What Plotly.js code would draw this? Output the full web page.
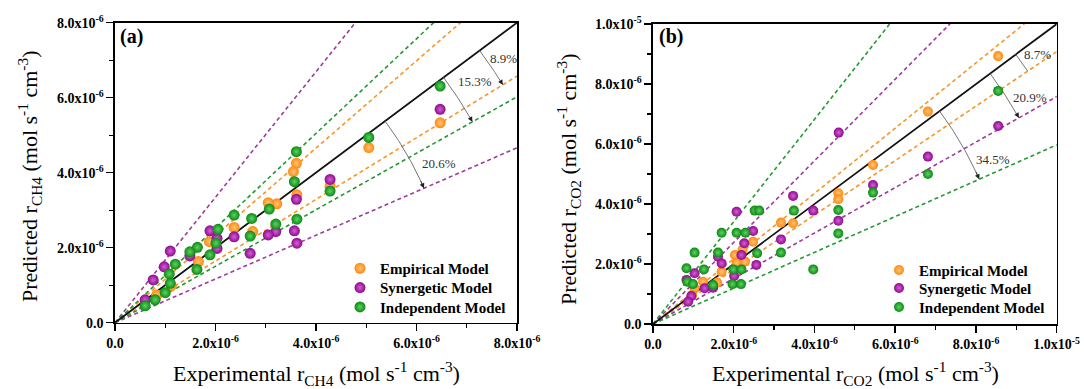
<!DOCTYPE html>
<html>
<head>
<meta charset="utf-8">
<script src="https://cdn.plot.ly/plotly-3.0.1.min.js"></script>
<style>html,body{margin:0;padding:0;background:#fff;}#chart{width:1084px;height:389px;}</style>
</head>
<body>
<div id="chart"></div>
<script>
// ---- Data (values in units of 1e-6 mol s^-1 cm^-3) ----
const UNIT = 1e-6;
const seriesNames = ['Empirical Model', 'Synergetic Model', 'Independent Model'];

// Panel (a): CH4
const a_emp_x = [3.61, 3.55, 3.62, 3.22, 3.05, 2.74, 2.37, 1.88, 1.66, 1.12, 0.83, 5.05, 6.47, 4.28];
const a_emp_y = [4.25, 4.03, 3.41, 3.17, 3.20, 2.43, 2.54, 2.16, 1.63, 0.98, 0.74, 4.67, 5.33, 3.64];
const a_syn_x = [4.28, 3.61, 3.57, 3.62, 3.20, 3.05, 2.69, 2.37, 2.03, 1.89, 2.03, 1.49, 1.10, 0.98, 0.76, 0.60, 6.47];
const a_syn_y = [3.82, 3.29, 2.45, 2.12, 2.43, 2.34, 1.85, 2.29, 2.25, 2.45, 1.98, 1.78, 1.91, 1.49, 1.14, 0.61, 5.69];
const a_ind_x = [3.61, 3.57, 4.28, 3.62, 3.07, 3.20, 2.72, 2.69, 2.37, 2.05, 2.01, 1.89, 1.64, 1.49, 1.63, 1.20, 1.08, 1.10, 1.00, 0.80, 0.60, 6.47, 5.05];
const a_ind_y = [4.56, 3.76, 3.51, 2.76, 3.03, 2.63, 2.78, 2.31, 2.87, 2.49, 2.12, 1.81, 2.01, 1.89, 1.42, 1.56, 1.30, 1.05, 0.80, 0.61, 0.45, 6.31, 4.94];

// Panel (b): CO2
const b_emp_x = [4.59, 4.59, 3.47, 3.17, 2.48, 2.22, 2.03, 2.28, 2.07, 1.70, 1.24, 1.59, 1.03, 0.97, 8.55, 6.81, 5.45];
const b_emp_y = [4.36, 4.16, 3.36, 3.38, 2.74, 2.47, 2.30, 2.08, 2.04, 1.74, 1.41, 1.38, 1.19, 0.97, 8.93, 7.08, 5.30];
const b_syn_x = [3.47, 3.97, 4.59, 2.07, 2.48, 2.26, 3.17, 2.56, 2.19, 1.61, 1.70, 2.01, 1.03, 0.83, 1.28, 1.49, 0.95, 0.87, 8.55, 6.81, 5.45, 4.60];
const b_syn_y = [4.27, 3.78, 3.44, 3.74, 3.10, 2.69, 2.82, 1.97, 2.30, 2.24, 2.02, 1.60, 1.69, 1.47, 1.19, 1.21, 0.93, 0.74, 6.60, 5.58, 4.63, 6.38];
const b_ind_x = [2.52, 2.63, 3.49, 4.59, 4.59, 3.17, 3.97, 1.70, 2.07, 2.29, 2.58, 1.03, 1.61, 0.83, 1.26, 1.99, 2.19, 0.85, 0.99, 1.49, 1.97, 2.18, 8.55, 6.81, 5.45];
const b_ind_y = [3.78, 3.78, 3.78, 3.80, 3.02, 2.38, 1.82, 3.04, 3.04, 3.04, 2.36, 2.38, 2.38, 1.86, 1.82, 1.82, 1.82, 1.41, 1.33, 1.30, 1.33, 1.33, 7.77, 5.00, 4.38];

// Error-band line slopes (upper / lower)
const a_slopes = {emp: [1.164, 0.822], syn: [1.673, 0.583], ind: [1.262, 0.753]};
const b_slopes = {emp: [1.088, 0.908], syn: [1.36, 0.758], ind: [1.706, 0.597]};
// Arc annotations: label, target lower line, radius (px)
const a_arcs = [['8.9%', 'emp', 455], ['15.3%', 'ind', 410], ['20.6%', 'syn', 337]];
const b_arcs = [['8.7%', 'emp', 452], ['20.9%', 'syn', 420], ['34.5%', 'ind', 357]];

const a_ticks = [0, 2, 4, 6, 8];
const a_tickText = ['0.0', '2.0x10<sup>-6</sup>', '4.0x10<sup>-6</sup>', '6.0x10<sup>-6</sup>', '8.0x10<sup>-6</sup>'];
const b_ticks = [0, 2, 4, 6, 8, 10];
const b_tickText = ['0.0', '2.0x10<sup>-6</sup>', '4.0x10<sup>-6</sup>', '6.0x10<sup>-6</sup>', '8.0x10<sup>-6</sup>', '1.0x10<sup>-5</sup>'];

// ---- Styling ----
const W = 1084, H = 389;
const FONT = '"Liberation Serif", serif';
const markerColors = {emp: '#FF8A0D', syn: '#8E0A8E', ind: '#0A8A12'};
const markerCenters = {emp: '#FFC47A', syn: '#D45FD4', ind: '#5FD165'};
const lineColors = {emp: '#F5962A', syn: '#9C3C9C', ind: '#229A30'};
const keys = ['emp', 'syn', 'ind'];

const pct = (px, py) => ({x: px / W, y: 1 - py / H});

const panels = [
  {xa: 'x', ya: 'y', xd: [115 / W, 517 / W], yd: [1 - 322.7 / H, 1 - 22.7 / H], max: 8,
   data: {emp: [a_emp_x, a_emp_y], syn: [a_syn_x, a_syn_y], ind: [a_ind_x, a_ind_y]},
   slopes: a_slopes, arcs: a_arcs, labelPos: [[503, 58], [474.5, 82], [439, 163.5]],
   ticks: a_ticks, tickText: a_tickText, legends: ['legend', 'legend2', 'legend3'],
   legX: 340, legRows: [268, 287.3, 306.7], msize: 11},
  {xa: 'x2', ya: 'y2', xd: [653 / W, 1056.7 / W], yd: [1 - 324 / H, 1 - 24 / H], max: 10,
   data: {emp: [b_emp_x, b_emp_y], syn: [b_syn_x, b_syn_y], ind: [b_ind_x, b_ind_y]},
   slopes: b_slopes, arcs: b_arcs, labelPos: [[1037, 54], [1029.5, 97], [993, 159.5]],
   ticks: b_ticks, tickText: b_tickText, legends: ['legend4', 'legend5', 'legend6'],
   legX: 879, legRows: [269.7, 287.7, 306.7], msize: 10}
];

const traces = [];
const annotations = [];
panels.forEach((p, pi) => {
  const xmax = p.max * UNIT;
  keys.forEach(k => {
    p.slopes[k].forEach(s => {
      traces.push({x: [0, xmax * 1.5], y: [0, xmax * 1.5 * s], xaxis: p.xa, yaxis: p.ya, mode: 'lines',
        line: {color: lineColors[k], width: 1.6, dash: '4px,3px'}, showlegend: false, hoverinfo: 'skip'});
    });
  });
  traces.push({x: [0, xmax], y: [0, xmax], xaxis: p.xa, yaxis: p.ya, mode: 'lines',
    line: {color: '#111', width: 1.8}, showlegend: false, hoverinfo: 'skip'});
  const pxX = (p.xd[1] - p.xd[0]) * W / xmax;
  const pxY = (p.yd[1] - p.yd[0]) * H / xmax;
  const th0 = Math.atan2(pxY, pxX);
  p.arcs.forEach(([label, k, r], ai) => {
    const th1 = Math.atan2(p.slopes[k][1] * pxY, pxX);
    const ax = [], ay = [];
    const n = 40;
    for (let i = 0; i <= n; i++) {
      const t = th0 + (th1 - th0) * i / n;
      ax.push(r * Math.cos(t) / pxX);
      ay.push(r * Math.sin(t) / pxY);
    }
    traces.push({x: ax, y: ay, xaxis: p.xa, yaxis: p.ya, mode: 'lines',
      line: {color: '#666', width: 0.9}, showlegend: false, hoverinfo: 'skip'});
    const tb = th1 + (th0 - th1) * 0.12;
    const ex = r * Math.cos(th1), ey = r * Math.sin(th1);
    const bx = r * Math.cos(tb), by = r * Math.sin(tb);
    annotations.push({x: ex / pxX, y: ey / pxY, xref: p.xa, yref: p.ya, text: '', showarrow: true,
      ax: bx - ex, ay: -(by - ey), arrowhead: 2, arrowsize: 1.1, arrowwidth: 0.9, arrowcolor: '#222', standoff: 0});
    const lp = pct(p.labelPos[ai][0], p.labelPos[ai][1]);
    annotations.push({xref: 'paper', yref: 'paper', x: lp.x, y: lp.y, xanchor: 'center', yanchor: 'middle',
      text: label, showarrow: false, font: {family: FONT, size: 13, color: '#333'}});
  });
  keys.forEach((k, ki) => {
    const [xs, ys] = p.data[k];
    traces.push({x: xs.map(v => v * UNIT), y: ys.map(v => v * UNIT), xaxis: p.xa, yaxis: p.ya,
      mode: 'markers', name: seriesNames[ki], legend: p.legends[ki], showlegend: true,
      marker: {size: p.msize, color: markerColors[k], gradient: {type: 'radial', color: markerCenters[k]},
        line: {width: 0}}, cliponaxis: false});
  });
});

function axis(p, isX) {
  return {
    domain: isX ? p.xd : p.yd,
    anchor: isX ? p.ya : p.xa,
    range: [0, p.max * UNIT],
    tickmode: 'array', tickvals: p.ticks.map(v => v * UNIT), ticktext: p.tickText,
    ticks: 'outside', ticklen: 7, tickwidth: 1.5, tickcolor: '#000',
    minor: {dtick: UNIT, ticks: 'outside', ticklen: 4, tickwidth: 1.3, tickcolor: '#000'},
    showline: true, linecolor: '#000', linewidth: 1.6, mirror: true,
    showgrid: false, zeroline: false,
    tickfont: {family: FONT, size: 14, color: '#000', weight: 'bold'},
    automargin: false, fixedrange: true
  };
}

const titleFont = {family: FONT, size: 22, color: '#000'};
const paperText = (px, py, text, font, angle) => annotations.push({xref: 'paper', yref: 'paper', ...pct(px, py),
  xanchor: 'center', yanchor: 'middle', text: text, showarrow: false, font: font, textangle: angle || 0});
paperText(131.5, 36.5, '<b>(a)</b>', {family: FONT, size: 20, color: '#000'});
paperText(671, 37, '<b>(b)</b>', {family: FONT, size: 20, color: '#000'});
paperText(316, 373, 'Experimental r<sub>CH4</sub> (mol s<sup>-1</sup> cm<sup>-3</sup>)', titleFont);
paperText(855, 373, 'Experimental r<sub>CO2</sub> (mol s<sup>-1</sup> cm<sup>-3</sup>)', titleFont);
paperText(30, 177, 'Predicted r<sub>CH4</sub> (mol s<sup>-1</sup> cm<sup>-3</sup>)', titleFont, -90);
paperText(568, 180, 'Predicted r<sub>CO2</sub> (mol s<sup>-1</sup> cm<sup>-3</sup>)', titleFont, -90);

const legendBase = {bgcolor: 'rgba(0,0,0,0)', borderwidth: 0, xanchor: 'left', yanchor: 'top',
  font: {family: FONT, size: 15, color: '#000', weight: 'bold'}, tracegroupgap: 0, itemwidth: 30};

const layout = {
  width: W, height: H, margin: {l: 0, r: 0, t: 0, b: 0},
  paper_bgcolor: '#fff', plot_bgcolor: '#fff', showlegend: true,
  xaxis: axis(panels[0], true), yaxis: axis(panels[0], false),
  xaxis2: axis(panels[1], true), yaxis2: axis(panels[1], false),
  annotations: annotations
};
panels.forEach(p => p.legends.forEach((lg, i) => {
  layout[lg] = {...legendBase, ...pct(p.legX, p.legRows[i] - 16)};
}));

Plotly.newPlot('chart', traces, layout, {staticPlot: true, displayModeBar: false});
</script>
</body>
</html>
